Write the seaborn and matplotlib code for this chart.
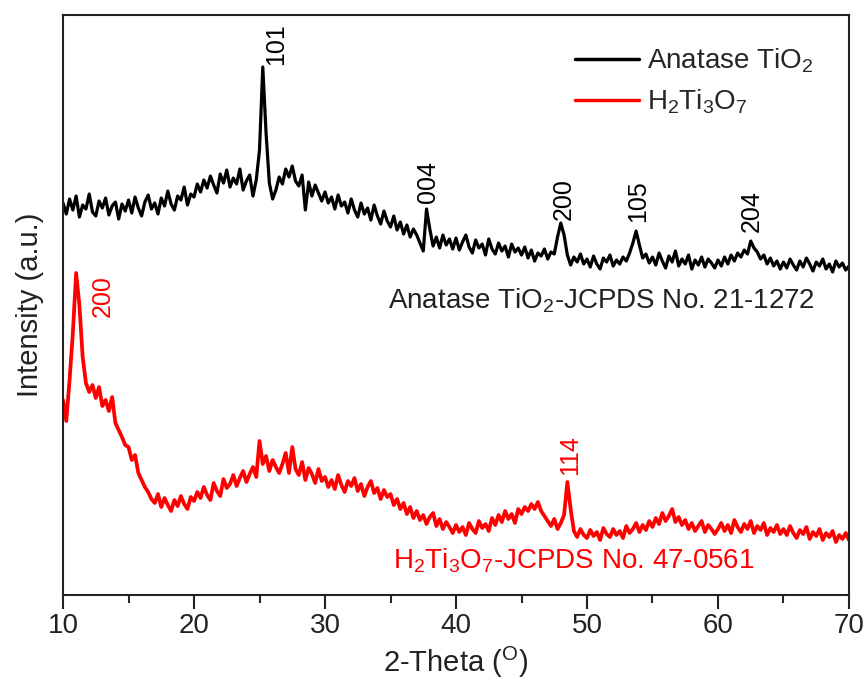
import numpy as np
import pandas as pd
import matplotlib
matplotlib.use("Agg")
import matplotlib.pyplot as plt
import seaborn as sns

# 2-theta grid (0.25 deg step), intensities (a.u., offset stacked)
theta = np.round(np.arange(10.0, 70.001, 0.25), 2)

anatase = [
    392, 381, 396, 385, 399, 378, 390, 386, 401, 383, 379, 394, 387, 397, 380, 389, 393, 376, 391, 384,
    395, 382, 398, 387, 379, 393, 400, 386, 392, 381, 397, 389, 404, 391, 385, 399, 395, 408, 390, 401,
    398, 411, 403, 415, 407, 419, 410, 402, 421, 412, 425, 408, 417, 411, 426, 405, 414, 420, 399, 415,
    445, 528, 462, 412, 396, 405, 418, 411, 426, 418, 429, 414, 409, 420, 385, 413, 399, 410, 402, 394,
    403, 392, 398, 386, 400, 389, 393, 382, 396, 385, 378, 392, 381, 387, 375, 390, 379, 371, 384, 374,
    368, 379, 365, 373, 361, 370, 358, 366, 360, 352, 344, 386, 366, 349, 358, 347, 360, 350, 356, 346,
    357, 345, 353, 360, 348, 342, 355, 347, 351, 340, 356, 346, 341, 352, 344, 349, 338, 351, 343, 347,
    340, 348, 337, 345, 334, 342, 339, 346, 336, 343, 341, 358, 372, 360, 340, 330, 338, 333, 341, 331,
    336, 328, 339, 331, 326, 337, 333, 340, 329, 335, 331, 338, 334, 342, 352, 364, 350, 337, 341, 332,
    338, 330, 342, 334, 327, 339, 333, 344, 329, 336, 331, 340, 326, 335, 330, 338, 328, 336, 332, 327,
    335, 329, 338, 331, 340, 334, 342, 338, 345, 341, 354, 347, 343, 336, 340, 331, 337, 329, 334, 326,
    333, 327, 336, 330, 325, 334, 328, 337, 331, 324, 333, 329, 336, 326, 331, 323, 334, 328, 332, 325,
    329,
]

h2ti3o7 = [
    195, 174, 215, 262, 322, 290, 238, 212, 203, 210, 197, 208, 189, 195, 184, 198, 172, 165, 158, 150,
    148, 135, 140, 122, 115, 108, 103, 96, 92, 101, 88, 97, 90, 84, 95, 89, 99, 91, 86, 98,
    94, 103, 97, 108, 100, 95, 112, 104, 99, 116, 107, 111, 120, 109, 117, 124, 113, 121, 128, 118,
    154, 131, 139, 124, 135, 128, 122, 131, 142, 122, 148, 126, 120, 133, 115, 127, 121, 112, 126, 114,
    118, 108, 115, 106, 120, 110, 103, 114, 109, 117, 104, 111, 99, 108, 114, 102, 107, 96, 105, 98,
    101, 90, 96, 86, 92, 81, 88, 77, 84, 75, 80, 71, 78, 82, 69, 76, 66, 73, 68, 62,
    70, 63, 68, 60, 72, 66, 62, 74, 67, 71, 64, 77, 70, 80, 73, 84, 76, 81, 72, 86,
    81, 88, 84, 91, 86, 93, 84, 79, 74, 69, 76, 66, 72, 80, 113, 86, 64, 58, 66, 60,
    57, 65, 59, 63, 55, 67, 61, 58, 66, 60, 64, 57, 69, 62, 66, 72, 63, 70, 65, 74,
    68, 77, 71, 82, 74, 79, 86, 73, 78, 70, 75, 66, 72, 64, 69, 74, 63, 70, 66, 61,
    66, 72, 64, 70, 62, 75, 68, 63, 71, 66, 74, 62, 69, 65, 72, 60, 67, 63, 70, 61,
    66, 60, 69, 62, 57, 65, 61, 68, 56, 63, 59, 66, 55, 62, 58, 64, 53, 60, 56, 62,
    55,
]

# peak indexing labels
anatase_peaks = ["101", "004", "200", "105", "204"]
anatase_peak_x = [26.3, 37.9, 48.2, 53.9, 62.6]
anatase_peak_y = [530, 392, 375, 373, 363]
h2_peaks = ["200", "114"]
h2_peak_x = [13.0, 48.7]
h2_peak_y = [278, 120]

df = pd.DataFrame({"theta": theta, "anatase": anatase, "h2": h2ti3o7})

sns.set_theme(style="ticks")
plt.rcParams["font.family"] = ["Liberation Sans", "DejaVu Sans"]
plt.rcParams["mathtext.default"] = "regular"

fig = plt.figure(figsize=(8.68, 6.89), dpi=100)
ax = fig.add_axes([0.0726, 0.1364, 0.9055, 0.8418])

sns.lineplot(data=df, x="theta", y="anatase", ax=ax, color="black", linewidth=2.3,
             estimator=None, sort=False, label="Anatase TiO$_2$")
sns.lineplot(data=df, x="theta", y="h2", ax=ax, color="#ff0000", linewidth=2.7,
             estimator=None, sort=False, label="H$_2$Ti$_3$O$_7$")

for lab, x, y in zip(anatase_peaks, anatase_peak_x, anatase_peak_y):
    ax.text(x, y, lab, rotation=90, ha="center", va="bottom", fontsize=18, color="black")
for lab, x, y in zip(h2_peaks, h2_peak_x, h2_peak_y):
    ax.text(x, y, lab, rotation=90, ha="center", va="bottom", fontsize=18, color="#ff0000")

ax.text(34.8, 294, "Anatase TiO$_2$-JCPDS No. 21-1272", fontsize=20, color="#222222",
        ha="left", va="center")
ax.text(35.2, 34, "H$_2$Ti$_3$O$_7$-JCPDS No. 47-0561", fontsize=20, color="#ff0000",
        ha="left", va="center")

ax.set_xlim(10, 70)
ax.set_ylim(0, 580)
ax.set_yticks([])
ax.set_xticks(range(10, 71, 10))
ax.set_xticks(range(15, 70, 10), minor=True)
ax.tick_params(axis="x", which="major", direction="out", length=10, width=1.5,
               labelsize=20, pad=3, colors="#222222")
ax.tick_params(axis="x", which="minor", direction="out", length=6, width=1.5)
for s in ax.spines.values():
    s.set_linewidth(1.5)
    s.set_color("#222222")

ax.set_xlabel("2-Theta ($^{O}$)", fontsize=21, labelpad=4, color="#222222")
ax.set_ylabel("Intensity (a.u.)", fontsize=21, labelpad=14, color="#222222")

leg = ax.legend(loc="upper left", bbox_to_anchor=(0.651, 0.946), frameon=False,
                fontsize=20, handlelength=2.3, handletextpad=0.3, labelspacing=0.45,
                borderaxespad=0, borderpad=0)
for line in leg.get_lines():
    line.set_linewidth(2.5)

fig.savefig("out.png", dpi=100, facecolor="white")
